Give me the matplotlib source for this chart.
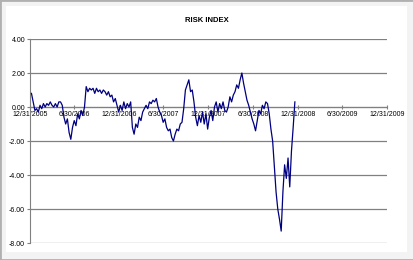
import matplotlib
matplotlib.use("Agg")
import matplotlib.pyplot as plt
from matplotlib.patches import Rectangle
import pandas as pd

# weekly risk index readings (Fridays)
risk = [0.8, 0.3, -0.2, -0.1, -0.3, 0.1, -0.1, 0.2, 0.0, 0.2,
        0.1, 0.3, 0.1, 0.0, 0.2, 0.0, 0.3, 0.3, 0.1, -0.6,
        -1.0, -0.7, -1.5, -1.9, -1.2, -0.8, -1.1, -0.4, -0.7, -0.2,
        -0.5, 0.0, 1.2, 0.9, 1.1, 1.0, 1.1, 0.8, 1.1, 0.9,
        1.0, 0.8, 1.0, 0.9, 0.7, 0.9, 0.6, 0.7, 0.3, 0.5,
        0.1, -0.3, 0.1, -0.2, 0.3, -0.1, 0.2, 0.0, 0.3, -1.2,
        -1.6, -1.0, -1.2, -0.6, -0.8, -0.3, -0.1, 0.1, -0.1, 0.3,
        0.2, 0.4, 0.3, 0.5, 0.0, -0.3, -0.5, -0.9, -0.7, -1.2,
        -1.4, -1.3, -1.8, -2.0, -1.6, -1.3, -1.4, -1.0, -0.9, -0.1,
        1.0, 1.3, 1.6, 0.9, 1.0, 0.3, -0.6, -1.1, -0.5, -0.9,
        -0.3, -1.0, -0.4, -1.3, -0.6, -0.2, -0.8, 0.0, 0.3, -0.3,
        0.2, -0.1, 0.3, -0.2, -0.3, 0.0, 0.6, 0.3, 0.7, 0.9,
        1.3, 1.1, 1.6, 2.0, 1.4, 0.9, 0.4, 0.1, -0.3, -0.7,
        -1.0, -1.4, -0.8, -0.2, -0.4, 0.1, -0.1, 0.3, 0.2, -0.4,
        -1.3, -2.0, -3.5, -5.0, -6.0, -6.6, -7.3, -5.0, -3.4, -4.2,
        -3.0, -4.7, -2.6, -1.2, 0.3]
dates = pd.date_range("2006-01-06", periods=len(risk), freq="7D")

tick_dates = pd.to_datetime(["2005-12-31", "2006-06-30", "2006-12-31", "2007-06-30",
                             "2007-12-31", "2008-06-30", "2008-12-31", "2009-06-30",
                             "2009-12-31"])
tick_labels = ["12/31/2005", "6/30/2006", "12/31/2006", "6/30/2007", "12/31/2007",
               "6/30/2008", "12/31/2008", "6/30/2009", "12/31/2009"]
y_ticks = [4, 2, 0, -2, -4, -6, -8]

plt.rcParams["font.family"] = ["Liberation Sans", "DejaVu Sans"]

fig = plt.figure(figsize=(4.14, 2.6), dpi=100, facecolor="#f3f3f3")
# chart frame like the spreadsheet export
fig.patches.append(Rectangle((6 / 414, 8 / 260), 401 / 414, 246 / 260, transform=fig.transFigure,
                             facecolor="white", edgecolor="none", zorder=-2))
fig.patches.append(Rectangle((0, 0), 1, 1, transform=fig.transFigure, fill=False,
                             edgecolor="#b0b0b0", linewidth=2, zorder=-1))

ax = fig.add_axes([30 / 414, 17 / 260, 357 / 414, 204 / 260], zorder=1)
ax.set_facecolor("none")
ax.plot(dates, risk, color="#000080", linewidth=0.9, zorder=3)

ax.set_xlim(tick_dates[0], tick_dates[-1])
ax.set_ylim(-8, 4)
ax.set_yticks(y_ticks)
ax.set_yticklabels(["%.2f" % v for v in y_ticks])
ax.set_xticks(tick_dates)
ax.set_xticklabels(tick_labels)

ax.grid(axis="y", color="#808080", linewidth=0.9)
ax.set_axisbelow(True)
for s in ["top", "right"]:
    ax.spines[s].set_visible(False)
ax.spines["bottom"].set_position(("data", 0))
ax.spines["bottom"].set_color("#808080")
ax.spines["left"].set_color("#808080")
ax.tick_params(axis="both", labelsize=5, colors="#808080", length=2, width=0.8,
               labelcolor="black", pad=1.5)
ax.tick_params(axis="x", direction="inout", length=3)

fig.text(0.5, 1 - 20 / 260, "RISK INDEX", ha="center", va="center",
         fontsize=5.5, fontweight="bold")

fig.savefig("out.png", dpi=100, facecolor=fig.get_facecolor())
